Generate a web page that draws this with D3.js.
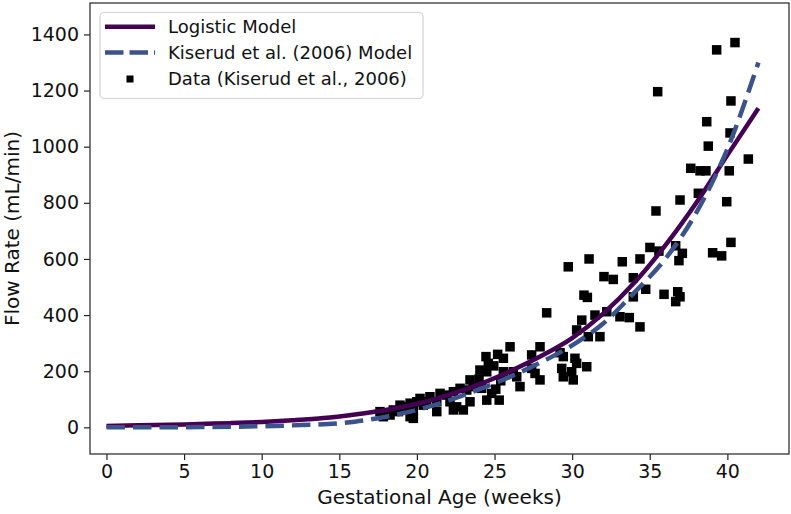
<!DOCTYPE html>
<html>
<head>
<meta charset="utf-8">
<script src="https://cdn.jsdelivr.net/npm/d3@7"></script>
<style>
  html, body { margin: 0; padding: 0; background: #fff; }
  svg { display: block; font-family: "DejaVu Sans", sans-serif; }
</style>
</head>
<body>
<svg id="chart" width="791" height="514"></svg>
<script>
// ---- Data ----
const modelWeeks = [0, 2, 4, 6, 8, 10, 12, 14, 16, 18, 20, 22, 24, 26, 28, 30, 32, 34, 36, 38, 40, 42];
const logisticFlow = [5, 7, 9, 12, 15, 19, 25, 33, 46, 62, 84, 115, 153, 200, 254, 318, 405, 515, 648, 800, 970, 1137];
const kiserudFlow = [0, 0, 0, 1, 2, 4, 7, 11, 20, 38, 62, 95, 135, 180, 232, 292, 370, 480, 600, 765, 992, 1300];

const dataWeeks = [
  40.23, 38.67, 40.17, 38.77, 41.35, 37.64, 38.24, 38.62, 40.12, 38.13,
  36.95, 39.96, 35.40, 35.51, 39.31, 40.49, 40.23, 39.05, 39.63, 35.01,
  35.59, 36.67, 37.10, 36.88, 31.09, 33.23, 34.37, 32.05, 32.65, 33.94,
  30.76, 30.98, 34.74, 33.94, 35.92, 36.80, 36.95, 36.67, 31.47, 32.23,
  33.08, 33.68, 34.37, 30.62, 31.79, 31.04, 29.75, 28.36, 30.29, 26.00,
  27.93, 25.20, 25.57, 24.45, 27.39, 29.22, 29.43, 30.18, 30.29, 30.94,
  24.95, 24.50, 26.21, 26.43, 27.39, 27.61, 29.33, 29.43, 29.97, 30.07,
  27.93, 25.40, 25.08, 26.64, 25.30, 24.00, 24.17, 24.82, 24.06, 24.60,
  25.57, 23.63, 23.42, 23.21, 22.78, 22.35, 21.92, 22.13, 22.35, 21.49,
  21.28, 20.84, 20.63, 20.20, 20.41, 19.99, 19.77, 19.56, 19.34, 18.91,
  18.80, 18.48, 18.27, 17.84, 17.62, 19.56, 19.77, 21.28, 22.56, 22.99,
  23.42, 24.50
];
const dataFlow = [
  1163, 1089, 1049, 1002, 956, 923, 914, 914, 914, 834,
  810, 804, 771, 1196, 1345, 1371, 659, 622, 611, 641,
  628, 647, 620, 594, 600, 590, 600, 537, 527, 533,
  471, 463, 492, 465, 474, 483, 465, 448, 400, 412,
  394, 391, 358, 382, 323, 323, 572, 408, 347, 287,
  287, 260, 246, 252, 258, 266, 252, 246, 228, 216,
  219, 198, 198, 180, 210, 192, 210, 180, 198, 169,
  169, 166, 136, 145, 97, 172, 139, 121, 204, 228,
  198, 145, 169, 133, 139, 127, 115, 91, 62, 121,
  91, 109, 91, 103, 79, 91, 62, 86, 73, 79,
  56, 62, 44, 38, 56, 38, 32, 56, 73, 62,
  91, 97
];

const xTicks = [0, 5, 10, 15, 20, 25, 30, 35, 40];
const yTicks = [0, 200, 400, 600, 800, 1000, 1200, 1400];

const seriesNames = ["Logistic Model", "Kiserud et al. (2006) Model", "Data (Kiserud et al., 2006)"];
const xLabel = "Gestational Age (weeks)";
const yLabel = "Flow Rate (mL/min)";

// ---- Layout ----
const plot = { left: 90, right: 789, top: 3, bottom: 454 };
const solidColor = "#440154";
const dashColor = "#3b528b";

const svg = d3.select("#chart");
const x = d3.scaleLinear().domain([-1.06, 43.97]).range([plot.left, plot.right]);
const y = d3.scaleLinear().domain([-95, 1512]).range([plot.bottom, plot.top]);

// Scatter
const pts = dataWeeks.map((w, i) => ({ w, f: dataFlow[i] }));
const ms = 9.5;
svg.append("g").selectAll("rect").data(pts).join("rect")
  .attr("x", d => x(d.w) - ms / 2)
  .attr("y", d => y(d.f) - ms / 2)
  .attr("width", ms).attr("height", ms)
  .attr("fill", "#000");

// Model lines
const line = d3.line().x(d => x(d[0])).y(d => y(d[1])).curve(d3.curveMonotoneX);
svg.append("path")
  .attr("d", line(modelWeeks.map((w, i) => [w, logisticFlow[i]])))
  .attr("fill", "none").attr("stroke", solidColor).attr("stroke-width", 4.5)
  .attr("stroke-linecap", "butt");
svg.append("path")
  .attr("d", line(modelWeeks.map((w, i) => [w, kiserudFlow[i]])))
  .attr("fill", "none").attr("stroke", dashColor).attr("stroke-width", 4.5)
  .attr("stroke-dasharray", "18.5,8");

// Axes
const tickFont = 19;
const xAxis = d3.axisBottom(x).tickValues(xTicks).tickSize(6).tickPadding(5).tickFormat(d3.format("d"));
const gx = svg.append("g").attr("transform", `translate(0,${plot.bottom})`).call(xAxis);
const yAxis = d3.axisLeft(y).tickValues(yTicks).tickSize(6).tickPadding(5).tickFormat(d3.format("d"));
const gy = svg.append("g").attr("transform", `translate(${plot.left},0)`).call(yAxis);
[gx, gy].forEach(g => {
  g.select(".domain").remove();
  g.selectAll(".tick line").attr("stroke", "#222").attr("stroke-width", 1.2);
  g.selectAll(".tick text").attr("fill", "#111").style("font-size", tickFont + "px")
    .style("font-family", "'DejaVu Sans', sans-serif");
});

// Frame
svg.append("rect")
  .attr("x", plot.left).attr("y", plot.top)
  .attr("width", plot.right - plot.left).attr("height", plot.bottom - plot.top)
  .attr("fill", "none").attr("stroke", "#333").attr("stroke-width", 1.3);

// Axis labels
svg.append("text")
  .attr("x", (plot.left + plot.right) / 2).attr("y", 504)
  .attr("text-anchor", "middle").style("font-size", "20px").attr("fill", "#111")
  .text(xLabel);
svg.append("text")
  .attr("transform", `translate(19,${(plot.top + plot.bottom) / 2}) rotate(-90)`)
  .attr("text-anchor", "middle").style("font-size", "20px").attr("fill", "#111")
  .text(yLabel);

// Legend
const lg = svg.append("g");
lg.append("rect")
  .attr("x", 100).attr("y", 12.5).attr("width", 323).attr("height", 86)
  .attr("rx", 4).attr("ry", 4)
  .attr("fill", "#fff").attr("fill-opacity", 0.85)
  .attr("stroke", "#d3d3d3").attr("stroke-width", 1.2);
const rowsY = [26.7, 52.5, 79];
lg.append("line").attr("x1", 105).attr("x2", 155).attr("y1", rowsY[0]).attr("y2", rowsY[0])
  .attr("stroke", solidColor).attr("stroke-width", 4.5);
lg.append("line").attr("x1", 105).attr("x2", 155).attr("y1", rowsY[1]).attr("y2", rowsY[1])
  .attr("stroke", dashColor).attr("stroke-width", 4.5).attr("stroke-dasharray", "18.5,6");
lg.append("rect").attr("x", 130 - 3.5).attr("y", rowsY[2] - 3.5).attr("width", 7).attr("height", 7)
  .attr("fill", "#000");
seriesNames.forEach((name, i) => {
  lg.append("text").attr("x", 168).attr("y", rowsY[i]).attr("dy", "0.36em")
    .style("font-size", "18px").attr("fill", "#111").text(name);
});
</script>
</body>
</html>
